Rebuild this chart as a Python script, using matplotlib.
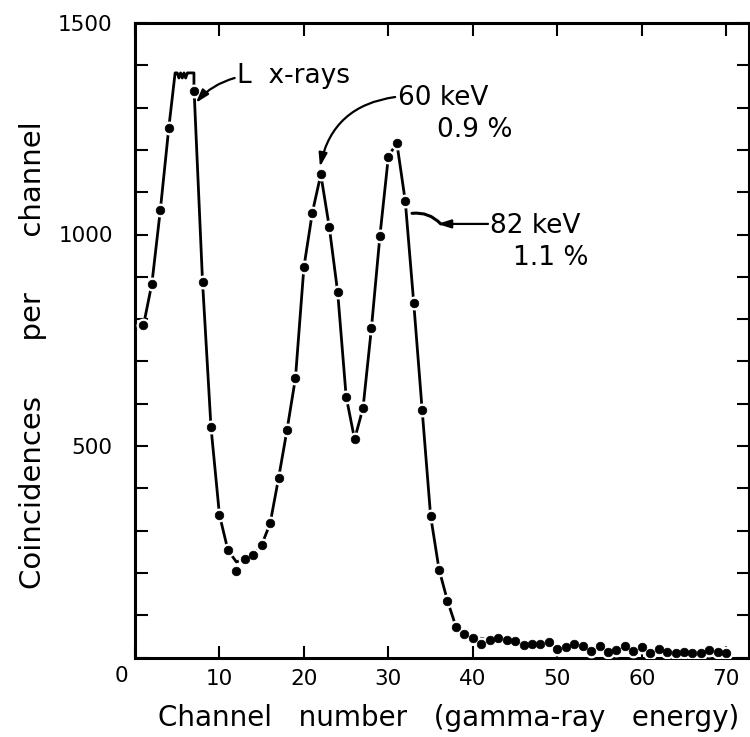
import matplotlib
matplotlib.use("Agg")
import matplotlib.pyplot as plt

# ---- data ----
dot_channels = [1, 2, 3, 4, 7, 8, 9, 10, 11, 12, 13, 14, 15, 16, 17, 18, 19, 20,
                21, 22, 23, 24, 25, 26, 27, 28, 29, 30, 31, 32, 33, 34, 35, 36,
                37, 38, 39, 40, 41, 42, 43, 44, 45, 46, 47, 48, 49, 50, 51, 52,
                53, 54, 55, 56, 57, 58, 59, 60, 61, 62, 63, 64, 65, 66, 67, 68,
                69, 70]
dot_counts = [785, 884, 1058, 1252, 1339, 887, 544, 337, 254, 205, 233, 242, 266,
              317, 424, 538, 661, 923, 1052, 1142, 1018, 863, 617, 516, 590, 780,
              997, 1184, 1217, 1079, 839, 585, 335, 208, 134, 73, 55, 47, 33, 42,
              47, 42, 38, 30, 31, 33, 36, 20, 24, 31, 27, 16, 28, 14, 18, 28, 15,
              24, 11, 19, 14, 10, 14, 11, 10, 18, 14, 11]

# hand-drawn curve (saturated L x-ray top, smooth background tail)
curve_channels = [1, 2, 3, 4, 4.75, 5.0, 5.2, 5.4, 5.6, 5.8, 6.0, 6.2, 6.4, 6.98,
                  6.98, 7, 8, 9, 10, 11, 12, 13, 14, 15, 16, 17, 18, 19, 20, 21,
                  22, 23, 24, 25, 26, 27, 28, 29, 30, 31, 32, 33, 34, 35, 36, 37,
                  38, 39, 40, 42, 45, 50, 55, 60, 65, 70]
curve_counts = [785, 884, 1058, 1252, 1382, 1382, 1370, 1382, 1370, 1382, 1370,
                1382, 1382, 1382, 1355, 1339, 887, 544, 337, 254, 226, 233, 242,
                266, 317, 424, 538, 661, 923, 1052, 1142, 1018, 863, 617, 516, 590,
                780, 997, 1184, 1217, 1079, 839, 585, 335, 208, 134, 73, 56, 48,
                42, 37, 27, 21, 16, 12, 10]

x_ticks = [0, 10, 20, 30, 40, 50, 60, 70]
x_ticklabels = ["", "10", "20", "30", "40", "50", "60", "70"]
y_ticks = [0, 500, 1000, 1500]
y_ticklabels = ["", "500", "1000", "1500"]

plt.rcParams["font.family"] = ["DejaVu Sans"]

fig = plt.figure(figsize=(7.5, 7.37), dpi=100)
ax = fig.add_axes([135 / 750, 1 - 657.5 / 737, (749 - 135) / 750, (657.5 - 23) / 737])

ax.plot(curve_channels, curve_counts, color="black", lw=2.0, zorder=2,
        solid_joinstyle="round")
ax.plot(dot_channels, dot_counts, linestyle="none", marker="o", ms=10,
        mfc="white", mec="none", zorder=3)
ax.plot(dot_channels, dot_counts, linestyle="none", marker="o", ms=6.2,
        mfc="black", mec="black", mew=0.5, zorder=4)

ax.set_xlim(0, 72.7)
ax.set_ylim(0, 1500)

ax.set_xticks(x_ticks)
ax.set_xticklabels(x_ticklabels)
ax.set_yticks(y_ticks)
ax.set_yticklabels(y_ticklabels)
ax.set_yticks(range(0, 1501, 100), minor=True)

ax.tick_params(which="both", direction="in", length=9, width=1.5,
               top=True, right=True, labelsize=15.5, colors="black")
ax.tick_params(axis="y", which="major", pad=16)
ax.tick_params(axis="x", which="major", pad=8)
for s in ax.spines.values():
    s.set_linewidth(2.2)

# corner "0"
ax.annotate("0", xy=(0, 0), xycoords="axes fraction", xytext=(-14, -18),
            textcoords="offset pixels", ha="center", va="center", fontsize=15.5)

fs = 19
# L x-rays
ax.text(12.1, 1375, "L  x-rays", fontsize=fs, ha="left", va="center")
ax.annotate("", xy=(7.2, 1311), xytext=(11.8, 1370),
            arrowprops=dict(arrowstyle="-|>,head_length=0.8,head_width=0.25",
                            color="black", lw=1.6,
                            connectionstyle="arc3,rad=0.15", shrinkA=0, shrinkB=0))
# 60 keV
ax.text(31.1, 1323, "60 keV", fontsize=fs, ha="left", va="center")
ax.text(35.7, 1247, "0.9 %", fontsize=fs, ha="left", va="center")
ax.annotate("", xy=(21.9, 1160), xytext=(30.8, 1325),
            arrowprops=dict(arrowstyle="-|>,head_length=0.8,head_width=0.25",
                            color="black", lw=1.6,
                            connectionstyle="arc3,rad=0.35", shrinkA=0, shrinkB=0))
# 82 keV
ax.text(42.0, 1020, "82 keV", fontsize=fs, ha="left", va="center")
ax.text(44.7, 944, "1.1 %", fontsize=fs, ha="left", va="center")
ax.annotate("", xy=(35.8, 1025), xytext=(41.8, 1025),
            arrowprops=dict(arrowstyle="-|>,head_length=0.8,head_width=0.25",
                            color="black", lw=1.6, shrinkA=0, shrinkB=0))
ax.annotate("", xy=(32.8, 1050), xytext=(36.2, 1025),
            arrowprops=dict(arrowstyle="-", color="black", lw=2.2,
                            connectionstyle="arc3,rad=0.25", shrinkA=0, shrinkB=0))

fig.text(33 / 750, 1 - 355 / 737, "Coincidences      per      channel",
         rotation=90, ha="center", va="center", fontsize=21)
fig.text(449 / 750, 1 - 718 / 737, "Channel   number   (gamma-ray   energy)",
         ha="center", va="center", fontsize=20)

fig.savefig("out.png", dpi=100)
